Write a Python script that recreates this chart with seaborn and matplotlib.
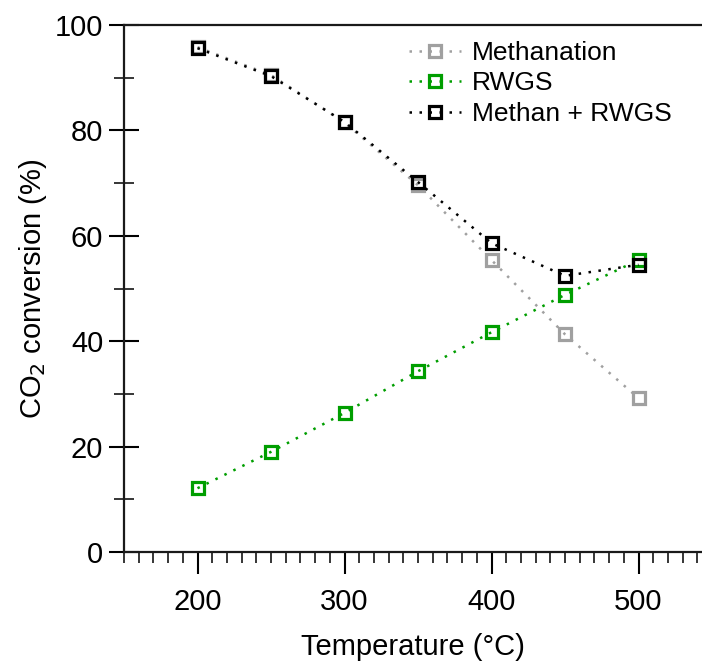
import numpy as np
import pandas as pd
import matplotlib
matplotlib.use("Agg")
import matplotlib.pyplot as plt
from matplotlib.ticker import MultipleLocator
import seaborn as sns

temperature = [200, 250, 300, 350, 400, 450, 500]
methanation = [95.8, 90.5, 81.5, 69.6, 55.4, 41.3, 29.2]
rwgs = [12.1, 19.0, 26.4, 34.3, 41.7, 48.8, 55.4]
methan_rwgs = [95.6, 90.3, 81.6, 70.2, 58.6, 52.4, 54.5]

series_names = ["Methanation", "RWGS", "Methan + RWGS"]
series_values = [methanation, rwgs, methan_rwgs]
series_colors = ["#a0a0a0", "#009e00", "#000000"]

sns.set_theme(style="white")
plt.rcParams["font.family"] = ["Liberation Sans", "DejaVu Sans"]
plt.rcParams["text.color"] = "black"
plt.rcParams["axes.labelcolor"] = "black"

df = pd.concat(
    [pd.DataFrame({"T": temperature, "conv": v, "series": n})
     for n, v in zip(series_names, series_values)],
    ignore_index=True,
)

fig = plt.figure(figsize=(7.02, 6.62), dpi=100)
ax = fig.add_axes([124 / 702, 1 - 552 / 662, 578 / 702, 527 / 662])

for name, color in zip(series_names, series_colors):
    sns.lineplot(
        data=df[df["series"] == name], x="T", y="conv", ax=ax,
        color=color, linestyle=(0, (1, 3.0)), linewidth=1.8,
        marker="s", markersize=9, markerfacecolor="none",
        markeredgecolor=color, markeredgewidth=2.3, label=name,
    )

ax.set_xlim(150, 150 + 578 / 1.47)
ax.set_ylim(0, 100)
ax.xaxis.set_major_locator(MultipleLocator(100))
ax.xaxis.set_minor_locator(MultipleLocator(10))
ax.yaxis.set_major_locator(MultipleLocator(20))
ax.yaxis.set_minor_locator(MultipleLocator(10))

ax.tick_params(axis="x", which="major", direction="out", length=16, width=1.5,
               labelsize=21, pad=10, colors="black", bottom=True)
ax.tick_params(axis="x", which="minor", direction="out", length=8, width=1.3,
               bottom=True)
ax.tick_params(axis="y", which="major", direction="inout", length=22, width=1.5,
               labelsize=21, pad=4, colors="black", left=True)
ax.tick_params(axis="y", which="minor", direction="inout", length=14, width=1.3,
               left=True)

for side in ["left", "bottom", "top"]:
    ax.spines[side].set_visible(True)
    ax.spines[side].set_color("#1a1a1a")
    ax.spines[side].set_linewidth(1.6)
ax.spines["right"].set_visible(False)

ax.set_xlabel("Temperature (°C)", fontsize=21, labelpad=12, color="black")
ax.set_ylabel("CO$_2$ conversion (%)", fontsize=21, labelpad=4, color="black")
ax.grid(False)

leg = ax.legend(loc="upper left", bbox_to_anchor=(0.474, 0.99), frameon=False,
                fontsize=19, handlelength=2.0, handletextpad=0.4,
                labelspacing=0.25, borderaxespad=0)
for t in leg.get_texts():
    t.set_color("black")

fig.savefig("out.png", dpi=100)
